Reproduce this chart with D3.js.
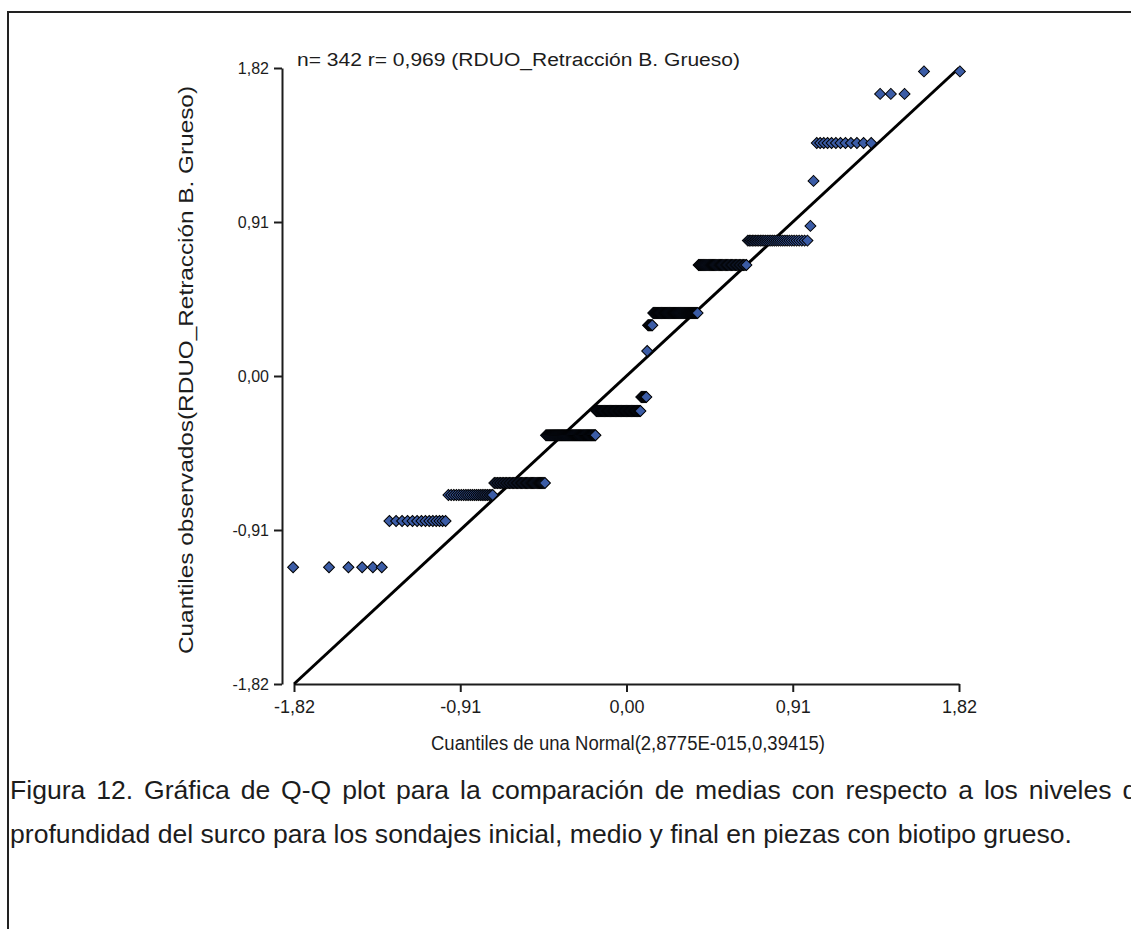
<!DOCTYPE html>
<html><head><meta charset="utf-8">
<script src="https://cdn.jsdelivr.net/npm/d3@7"></script>
<style>
html,body{margin:0;padding:0;background:#fff;}
svg{display:block;}
text{font-family:"Liberation Sans",Arial,sans-serif;}
</style></head><body>
<svg id="chart" width="1131" height="929"></svg>
<script>
// Observed residual levels (sorted) and how many observations sit at each level
const observedLevels = [-1.13, -0.857, -0.703, -0.632, -0.35, -0.207, -0.124, 0.148, 0.30, 0.372, 0.656, 0.80, 0.887, 1.153, 1.377, 1.667, 1.80];
const observedCounts = [6, 14, 22, 40, 53, 53, 7, 1, 6, 49, 41, 31, 1, 1, 12, 3, 2];
// Reference normal distribution (from the x-axis title)
const normalMean = 2.8775e-15;
const normalVariance = 0.39415;
// Axis ticks
const tickValues = [-1.82, -0.91, 0, 0.91, 1.82];
const tickLabels = ["-1,82", "-0,91", "0,00", "0,91", "1,82"];
// Texts
const titleText = "n= 342 r= 0,969 (RDUO_Retracción B. Grueso)";
const xTitle = "Cuantiles de una Normal(2,8775E-015,0,39415)";
const yTitle = "Cuantiles observados(RDUO_Retracción B. Grueso)";
const captionLines = [
  "Figura 12. Gráfica de Q-Q plot para la comparación de medias con respecto a los niveles de",
  "profundidad del surco para los sondajes inicial, medio y final en piezas con biotipo grueso."
];

// Inverse standard normal CDF (Acklam) - theoretical quantiles of a Q-Q plot
function normInv(p){
  const a=[-3.969683028665376e+01,2.209460984245205e+02,-2.759285104469687e+02,1.383577518672690e+02,-3.066479806614716e+01,2.506628277459239e+00];
  const b=[-5.447609879822406e+01,1.615858368580409e+02,-1.556989798598866e+02,6.680131188771972e+01,-1.328068155288572e+01];
  const c=[-7.784894002430293e-03,-3.223964580411365e-01,-2.400758277161838e+00,-2.549732539343734e+00,4.374664141464968e+00,2.938163982698783e+00];
  const d=[7.784695709041462e-03,3.224671290700398e-01,2.445134137142996e+00,3.754408661907416e+00];
  const pl=0.02425, ph=1-pl; let q,r;
  if(p<pl){q=Math.sqrt(-2*Math.log(p));return (((((c[0]*q+c[1])*q+c[2])*q+c[3])*q+c[4])*q+c[5])/((((d[0]*q+d[1])*q+d[2])*q+d[3])*q+1);}
  if(p<=ph){q=p-0.5;r=q*q;return (((((a[0]*r+a[1])*r+a[2])*r+a[3])*r+a[4])*r+a[5])*q/(((((b[0]*r+b[1])*r+b[2])*r+b[3])*r+b[4])*r+1);}
  q=Math.sqrt(-2*Math.log(1-p));return -(((((c[0]*q+c[1])*q+c[2])*q+c[3])*q+c[4])*q+c[5])/((((d[0]*q+d[1])*q+d[2])*q+d[3])*q+1);
}

// Build the sorted observations and their theoretical (Blom) quantiles
const observations = [];
observedLevels.forEach((v,k)=>{ for(let j=0;j<observedCounts[k];j++) observations.push(v); });
const n = observations.length;
const sd = Math.sqrt(normalVariance);
const points = observations.map((v,i)=>({
  theo: normalMean + sd*normInv((i+1-0.375)/(n+0.25)),
  obs: v
}));

const svg = d3.select("#chart");
const ink = "#1c1c1c";

// Frame
svg.append("rect").attr("x",8).attr("y",12).attr("width",1200).attr("height",1000)
  .attr("fill","none").attr("stroke","#222").attr("stroke-width",2);

const x = d3.scaleLinear().domain([-1.82,1.82]).range([294,959]);
const y = d3.scaleLinear().domain([-1.82,1.82]).range([684,68]);

const xAxis = d3.axisBottom(x).tickValues(tickValues).tickFormat((d,i)=>tickLabels[i])
  .tickSize(8).tickSizeOuter(0).tickPadding(8);
const yAxis = d3.axisLeft(y).tickValues(tickValues).tickFormat((d,i)=>tickLabels[i])
  .tickSize(8).tickSizeOuter(0).tickPadding(5);

const gx = svg.append("g").attr("transform","translate(0,684)").call(xAxis);
const gy = svg.append("g").attr("transform","translate(282,0)").call(yAxis);
[gx,gy].forEach(g=>{
  g.attr("font-family",null).attr("font-size",null);
  g.select(".domain").attr("stroke",ink).attr("stroke-width",2);
  g.selectAll(".tick line").attr("stroke",ink).attr("stroke-width",2);
  g.selectAll(".tick text").attr("fill",ink);
});
gx.selectAll(".tick text").style("font-size","18px");
gy.selectAll(".tick text").style("font-size","16px");

// Reference line y = x
svg.append("path")
  .datum([-1.82,1.82])
  .attr("d", d3.line().x(d=>x(d)).y(d=>y(d)))
  .attr("stroke","#000").attr("stroke-width",3).attr("fill","none");

// Points (diamonds)
const sym = d3.symbol().type(d3.symbolSquare).size(60);
svg.append("g").selectAll("path").data(points).join("path")
  .attr("d", sym)
  .attr("transform", d=>`translate(${x(d.theo)},${y(d.obs)}) rotate(45)`)
  .attr("fill","#3b5ca6").attr("stroke","#000").attr("stroke-width",1);

// Title
svg.append("text").attr("x",297).attr("y",66).attr("fill",ink).style("font-size","18px")
  .attr("textLength",443).attr("lengthAdjust","spacingAndGlyphs").text(titleText);

// Axis titles
svg.append("text").attr("x",628).attr("y",750).attr("text-anchor","middle")
  .attr("fill",ink).style("font-size","20px")
  .attr("textLength",394).attr("lengthAdjust","spacingAndGlyphs").text(xTitle);
svg.append("text").attr("transform","translate(193,370) rotate(-90)").attr("text-anchor","middle")
  .attr("fill",ink).style("font-size","21px")
  .attr("textLength",568).attr("lengthAdjust","spacingAndGlyphs").text(yTitle);

// Caption (first line justified, second line natural)
const capSize = 25;
const capBase = [799, 843];
const capLeft = 10, capRight = 1152, line2Width = 1062;
const words = captionLines[0].split(" ");
const tmp = svg.append("g").style("font-size",capSize+"px");
const measure = s => { const t=tmp.append("text").text(s); const wd=t.node().getComputedTextLength(); t.remove(); return wd; };
const line2Natural = measure(captionLines[1]);
const squeeze = line2Width / line2Natural;
const widths = words.map(w=>measure(w)*squeeze);
tmp.remove();
const total = d3.sum(widths);
const gap = (capRight-capLeft-total)/(words.length-1);
let cx = capLeft;
const cap1 = svg.append("g");
words.forEach((w,i)=>{
  cap1.append("text").attr("x",cx).attr("y",capBase[0]).attr("fill",ink).style("font-size",capSize+"px")
    .attr("textLength",widths[i]).attr("lengthAdjust","spacingAndGlyphs").text(w);
  cx += widths[i]+gap;
});
svg.append("text").attr("x",capLeft).attr("y",capBase[1]).attr("fill",ink).style("font-size",capSize+"px")
  .attr("textLength",line2Width).attr("lengthAdjust","spacingAndGlyphs").text(captionLines[1]);
</script>
</body></html>
